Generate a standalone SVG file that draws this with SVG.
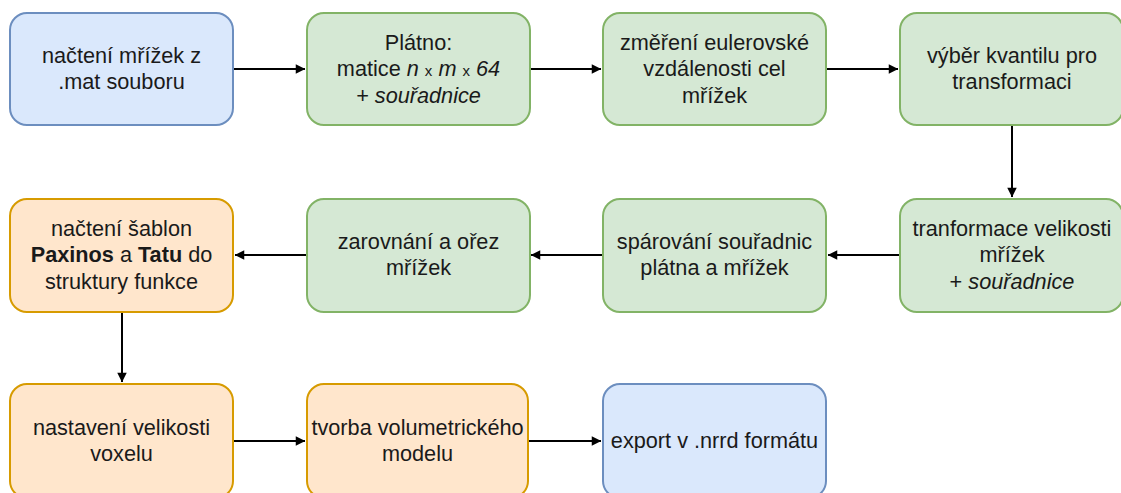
<svg xmlns="http://www.w3.org/2000/svg" width="1121" height="493" viewBox="0 0 1121 493">
<style>
text{font-family:"Liberation Sans",Arial,sans-serif;font-size:21.7px;fill:#1a1a1a;text-anchor:middle}
.b{fill:#dae8fc;stroke:#6c8ebf;stroke-width:2}
.g{fill:#d5e8d4;stroke:#82b366;stroke-width:2}
.o{fill:#ffe6cc;stroke:#d79b00;stroke-width:2}
.c{stroke:#000;stroke-width:2;fill:none;marker-end:url(#a)}
.i{font-style:italic}
.s{font-size:15px}
.bd{font-weight:bold}
</style>
<defs>
<marker id="a" viewBox="0 0 10 10" refX="10" refY="5" markerWidth="5" markerHeight="5" orient="auto" markerUnits="userSpaceOnUse" overflow="visible">
<path d="M0,0 L10,5 L0,10 Z" fill="#000" transform="scale(1.9) translate(-4.5,-2.4)"/>
</marker>
</defs>
<rect width="1121" height="493" fill="#fff"/>
<g id="connectors">
<path class="c" d="M233,69 H305"/>
<path class="c" d="M530,69 H601"/>
<path class="c" d="M826,69 H898"/>
<path class="c" d="M1012,125 V197"/>
<path class="c" d="M900,255 H828"/>
<path class="c" d="M603,255 H531"/>
<path class="c" d="M307,255 H235"/>
<path class="c" d="M122,312 V382"/>
<path class="c" d="M233,441 H305"/>
<path class="c" d="M528,441 H601"/>
</g>
<g id="n1"><rect class="b" x="10" y="13" width="223" height="112" rx="17"/>
<text x="121.5" y="62.5">načtení mřížek z</text><text x="121.5" y="89">.mat souboru</text></g>
<g id="n2"><rect class="g" x="307" y="13" width="223" height="112" rx="17"/>
<text x="418.5" y="49.5">Plátno:</text>
<text x="418.5" y="76">matice <tspan class="i">n</tspan> <tspan class="s">x</tspan> <tspan class="i">m</tspan> <tspan class="s">x</tspan> <tspan class="i">64</tspan></text>
<text x="418.5" y="102.5" class="i">+ souřadnice</text></g>
<g id="n3"><rect class="g" x="603" y="13" width="223" height="112" rx="17"/>
<text x="714.5" y="49.5">změření eulerovské</text><text x="714.5" y="76">vzdálenosti cel</text><text x="714.5" y="102.5">mřížek</text></g>
<g id="n4"><rect class="g" x="900" y="13" width="223" height="112" rx="17"/>
<text x="1012" y="62.5">výběr kvantilu pro</text><text x="1012" y="89">transformaci</text></g>
<g id="n5"><rect class="g" x="900" y="199" width="223" height="113" rx="17"/>
<text x="1012" y="235.5">tranformace velikosti</text><text x="1012" y="262">mřížek</text>
<text x="1012" y="288.5">+ <tspan class="i">souřadnice</tspan></text></g>
<g id="n6"><rect class="g" x="603" y="199" width="223" height="113" rx="17"/>
<text x="714.5" y="248.5">spárování souřadnic</text><text x="714.5" y="275">plátna a mřížek</text></g>
<g id="n7"><rect class="g" x="307" y="199" width="223" height="113" rx="17"/>
<text x="418.5" y="248.5">zarovnání a ořez</text><text x="418.5" y="275">mřížek</text></g>
<g id="n8"><rect class="o" x="10" y="199" width="223" height="113" rx="17"/>
<text x="121.5" y="235.5">načtení šablon</text>
<text x="121.5" y="262"><tspan class="bd">Paxinos</tspan> a <tspan class="bd">Tatu</tspan> do</text>
<text x="121.5" y="288.5">struktury funkce</text></g>
<g id="n9"><rect class="o" x="10" y="384" width="223" height="114" rx="17"/>
<text x="121.5" y="434.5">nastavení velikosti</text><text x="121.5" y="461">voxelu</text></g>
<g id="n10"><rect class="o" x="307" y="384" width="221" height="114" rx="17"/>
<text x="417.5" y="434.5">tvorba volumetrického</text><text x="417.5" y="461">modelu</text></g>
<g id="n11"><rect class="b" x="603" y="384" width="223" height="114" rx="17"/>
<text x="714.5" y="448">export v .nrrd formátu</text></g>
</svg>
